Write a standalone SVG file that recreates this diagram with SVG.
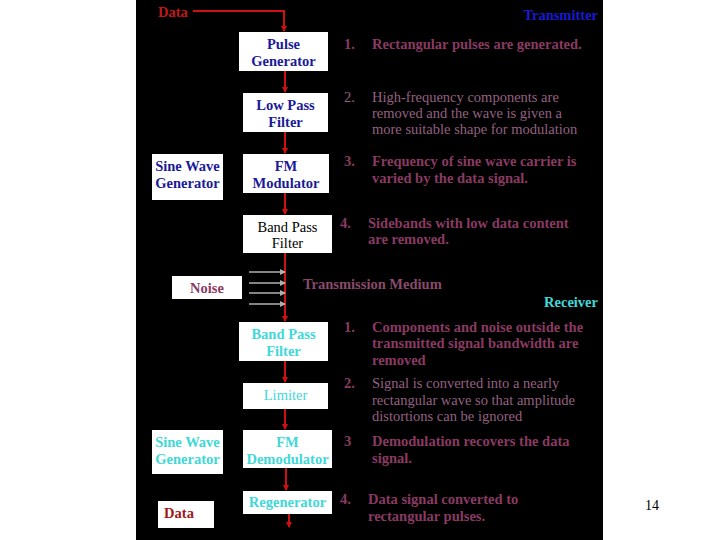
<svg xmlns="http://www.w3.org/2000/svg" width="720" height="540" viewBox="0 0 720 540">
<defs>
<marker id="ar" markerWidth="6" markerHeight="6" refX="5" refY="3" orient="auto" markerUnits="userSpaceOnUse"><path d="M0,0 L6,3 L0,6 z" fill="#d01010"/></marker>
<marker id="ag" markerWidth="6" markerHeight="6" refX="5" refY="3" orient="auto" markerUnits="userSpaceOnUse"><path d="M0,0 L6,3 L0,6 z" fill="#b0b0b0"/></marker>
<style>
.box{fill:#ffffff}
.t{font-family:"Liberation Serif","Times New Roman",serif;font-size:14.5px}
.b{font-weight:bold}
.blue{fill:#1a1a9a}
.cyan{fill:#40d8d8}
.mar{fill:#8a3a62}
.marn{fill:#946080}
.red{stroke:#d01010;stroke-width:2;fill:none}
.grey{stroke:#b0b0b0;stroke-width:1.5;fill:none}
</style>
</defs>
<rect width="720" height="540" fill="#ffffff"/>
<rect x="136" y="0" width="467" height="540" fill="#000000"/>

<g id="connectors">
<path class="red" d="M193,11 H284 V31" marker-end="url(#ar)"/>
<path class="red" d="M285,71 V92" marker-end="url(#ar)"/>
<path class="red" d="M285,132 V153" marker-end="url(#ar)"/>
<path class="red" d="M285,193 V214" marker-end="url(#ar)"/>
<path class="red" d="M285,253 V321" marker-end="url(#ar)"/>
<path class="red" d="M285,361 V382" marker-end="url(#ar)"/>
<path class="red" d="M285,409 V429" marker-end="url(#ar)"/>
<path class="red" d="M286,468 V490" marker-end="url(#ar)"/>
<path class="red" d="M289,514 V527" marker-end="url(#ar)"/>
<path class="grey" d="M249,272 H285" marker-end="url(#ag)"/>
<path class="grey" d="M249,283 H285" marker-end="url(#ag)"/>
<path class="grey" d="M249,293 H285" marker-end="url(#ag)"/>
<path class="grey" d="M249,304 H285" marker-end="url(#ag)"/>
</g>

<text class="t b" x="158" y="17" fill="#c01818">Data</text>
<text class="t b" x="598" y="20" text-anchor="end" fill="#1a1ad0">Transmitter</text>

<g id="pulse-generator"><rect class="box" x="239" y="32" width="89" height="39"/>
<text class="t b blue" x="283.5" y="49" text-anchor="middle">Pulse</text>
<text class="t b blue" x="283.5" y="66" text-anchor="middle">Generator</text></g>

<g id="low-pass-filter"><rect class="box" x="243" y="93" width="85" height="39"/>
<text class="t b blue" x="285.5" y="110" text-anchor="middle">Low Pass</text>
<text class="t b blue" x="285.5" y="127" text-anchor="middle">Filter</text></g>

<g id="sine-wave-tx"><rect class="box" x="152" y="154" width="71" height="46"/>
<text class="t b blue" x="187.5" y="171" text-anchor="middle">Sine Wave</text>
<text class="t b blue" x="187.5" y="188" text-anchor="middle">Generator</text></g>

<g id="fm-modulator"><rect class="box" x="243" y="154" width="86" height="39"/>
<text class="t b blue" x="286" y="171" text-anchor="middle">FM</text>
<text class="t b blue" x="286" y="188" text-anchor="middle">Modulator</text></g>

<g id="band-pass-tx"><rect class="box" x="243" y="215" width="89" height="38"/>
<text class="t" x="287.5" y="232" text-anchor="middle" fill="#000">Band Pass</text>
<text class="t" x="287.5" y="248" text-anchor="middle" fill="#000">Filter</text></g>

<g id="noise"><rect class="box" x="172" y="276" width="70" height="23"/>
<text class="t b mar" x="207" y="293" text-anchor="middle">Noise</text></g>

<text class="t b" x="303" y="289" fill="#8a4a6c">Transmission Medium</text>
<text class="t b cyan" x="598" y="307" text-anchor="end">Receiver</text>

<g id="band-pass-rx"><rect class="box" x="239" y="322" width="89" height="39"/>
<text class="t b cyan" x="283.5" y="339" text-anchor="middle">Band Pass</text>
<text class="t b cyan" x="283.5" y="356" text-anchor="middle">Filter</text></g>

<g id="limiter"><rect class="box" x="243" y="383" width="85" height="26"/>
<text class="t cyan" x="285.5" y="400" text-anchor="middle">Limiter</text></g>

<g id="sine-wave-rx"><rect class="box" x="152" y="430" width="71" height="44"/>
<text class="t b cyan" x="187.5" y="447" text-anchor="middle">Sine Wave</text>
<text class="t b cyan" x="187.5" y="464" text-anchor="middle">Generator</text></g>

<g id="fm-demodulator"><rect class="box" x="243" y="430" width="89" height="38"/>
<text class="t b cyan" x="287.5" y="447" text-anchor="middle">FM</text>
<text class="t b cyan" x="287.5" y="464" text-anchor="middle">Demodulator</text></g>

<g id="regenerator"><rect class="box" x="243" y="491" width="89" height="23"/>
<text class="t b cyan" x="287.5" y="507" text-anchor="middle">Regenerator</text></g>

<g id="data-out"><rect class="box" x="158" y="501" width="56" height="27"/>
<text class="t b" x="179" y="518" text-anchor="middle" fill="#a01818">Data</text></g>

<g id="steps">
<text class="t b mar" x="344" y="49">1.</text>
<text class="t b mar" x="372" y="49">Rectangular pulses are generated.</text>
<text class="t marn" x="344" y="102">2.</text>
<text class="t marn" x="372" y="102">High-frequency components are</text>
<text class="t marn" x="372" y="118">removed and the wave is given a</text>
<text class="t marn" x="372" y="134">more suitable shape for modulation</text>
<text class="t b mar" x="344" y="166">3.</text>
<text class="t b mar" x="372" y="166">Frequency of sine wave carrier is</text>
<text class="t b mar" x="372" y="183">varied by the data signal.</text>
<text class="t b mar" x="340" y="228">4.</text>
<text class="t b mar" x="368" y="228">Sidebands with low data content</text>
<text class="t b mar" x="368" y="244">are removed.</text>
<text class="t b mar" x="344" y="332">1.</text>
<text class="t b mar" x="372" y="332">Components and noise outside the</text>
<text class="t b mar" x="372" y="348">transmitted signal bandwidth are</text>
<text class="t b mar" x="372" y="365">removed</text>
<text class="t b mar" x="344" y="388">2.</text>
<text class="t marn" x="372" y="388">Signal is converted into a nearly</text>
<text class="t marn" x="372" y="405">rectangular wave so that amplitude</text>
<text class="t marn" x="372" y="421">distortions can be ignored</text>
<text class="t b mar" x="344" y="446">3</text>
<text class="t b mar" x="372" y="446">Demodulation recovers the data</text>
<text class="t b mar" x="372" y="463">signal.</text>
<text class="t b mar" x="340" y="504">4.</text>
<text class="t b mar" x="368" y="504">Data signal converted to</text>
<text class="t b mar" x="368" y="521">rectangular pulses.</text>
</g>
<text x="652" y="510" text-anchor="middle" font-family="Liberation Serif, serif" font-size="14" fill="#000">14</text>
</svg>
